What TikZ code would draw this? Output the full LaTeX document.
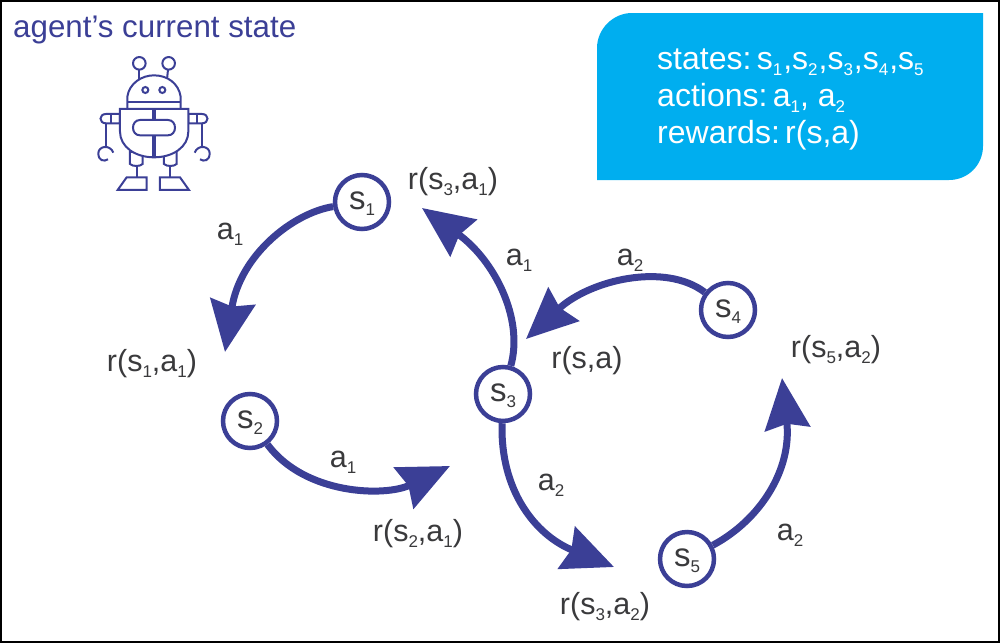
\documentclass[tikz,border=0pt]{standalone}
\usepackage{fontspec}
\setmainfont{Liberation Sans}
\usetikzlibrary{arrows.meta}
\definecolor{navy}{HTML}{3B3F96}
\definecolor{sky}{HTML}{00AEEF}
\definecolor{ink}{HTML}{3A3A3C}
\newcommand{\subs}[1]{\raisebox{-6.5pt}{\fontsize{17}{17}\selectfont #1}}
\newcommand{\labfont}{\fontsize{30.5}{36}\selectfont}
\tikzset{
  statenode/.style={circle,draw=navy,line width=4.5pt,fill=white,minimum size=54pt,inner sep=0pt,text=ink,font=\fontsize{33}{36}\selectfont,text height=14pt,text depth=0pt},
  conn/.style={draw=navy,line width=7pt,-{Stealth[length=51pt,width=45pt,inset=5pt,fill=navy]}},
  lab/.style={text=ink,font=\labfont,inner sep=0pt,anchor=base},
  boxtext/.style={text=white,font=\fontsize{32}{37}\selectfont,inner sep=0pt,anchor=base west},
  robot/.style={draw=navy,line width=2pt,fill=white}
}
\begin{document}
\begin{tikzpicture}[x=1pt,y=-1pt]
\useasboundingbox (0,0) rectangle (1000,643);
\draw[black,line width=2pt] (1,1) rectangle (999,642);
% info box
\fill[sky] (632,13) -- (983,13) -- (983,146) .. controls (983,165) and (968,180) .. (949,180) -- (597,180) -- (597,48) .. controls (597,29) and (613,13) .. (632,13) -- cycle;
\node[boxtext] (t1) at (657,69) {states:\,s\subs{1}\kern1pt,s\subs{2}\kern1pt,s\subs{3}\kern1pt,s\subs{4}\kern1pt,s\subs{5}};
\node[boxtext] (t2) at (657,106) {actions:\,a\subs{1}, a\subs{2}};
\node[boxtext] (t3) at (657,143) {rewards:\,r(s,a)};
\node[text=navy,font=\fontsize{31.3}{36}\selectfont,inner sep=0pt,anchor=base west] (cur) at (13,37) {agent’s current state};
% robot
\begin{scope}[shift={(80,40)},x=0.3333pt,y=-0.3333pt]
\draw[robot,fill=none] (178,70) -- (178,118);
\draw[robot,fill=none] (266,70) -- (261,118);
\draw[robot] (178,70) circle[radius=6.3pt];
\draw[robot] (266,70) circle[radius=6.3pt];
\draw[robot] (142,205) -- (142,170) .. controls (148,130) and (185,106) .. (222,106) .. controls (262,106) and (296,130) .. (302,170) -- (302,205);
\draw[robot,fill=none] (142,186) -- (302,186);
\draw[robot] (196,150) circle[radius=3pt];
\draw[robot] (247,150) circle[radius=3pt];
% arms
\draw[robot] (120,222) -- (78,222) .. controls (56,222) and (56,250) .. (78,250) -- (120,250) -- cycle;
\draw[robot,fill=none] (92,222) -- (92,250);
\draw[robot] (325,222) -- (366,222) .. controls (388,222) and (388,250) .. (366,250) -- (325,250) -- cycle;
\draw[robot,fill=none] (352,222) -- (352,250);
\draw[robot,fill=none] (78,250) -- (78,320) (366,250) -- (366,320);
\draw[robot,fill=none] (100,338) .. controls (90,312) and (55,318) .. (55,340) .. controls (55,362) and (72,366) .. (84,358);
\draw[robot,fill=none] (344,338) .. controls (354,312) and (389,318) .. (389,340) .. controls (389,362) and (372,366) .. (360,358);
% legs
\draw[robot] (150,335) -- (150,372) .. controls (158,380) and (180,380) .. (188,372) -- (188,340) -- cycle;
\draw[robot] (252,340) -- (252,372) .. controls (260,380) and (282,380) .. (290,372) -- (290,335) -- cycle;
\draw[robot,fill=none] (170,378) -- (170,412) (270,378) -- (270,412);
\draw[robot] (140,412) -- (200,412) -- (200,450) -- (113,450) -- cycle;
\draw[robot] (240,412) -- (300,412) -- (327,450) -- (240,450) -- cycle;
% body
\draw[robot] (120,207) -- (325,207) -- (325,275) .. controls (325,320) and (280,352) .. (222,352) .. controls (165,352) and (120,320) .. (120,275) -- cycle;
\draw[robot,fill=none] (218,207) -- (218,238) (226,207) -- (226,238);
\draw[robot,fill=none] (218,288) -- (218,351) (226,288) -- (226,351);
\draw[robot] (180,240) -- (264,240) .. controls (292,240) and (292,286) .. (264,286) -- (180,286) .. controls (152,286) and (152,240) .. (180,240) -- cycle;
\end{scope}
% states
\node[statenode] (s1) at (362,202) {s\subs{1}};
\node[statenode] (s2) at (250,421) {s\subs{2}};
\node[statenode] (s3) at (503,394) {s\subs{3}};
\node[statenode] (s4) at (728,310) {s\subs{4}};
\node[statenode] (s5) at (687,559) {s\subs{5}};
% arrow tips
\coordinate (e1) at (225,352);
\coordinate (e2) at (450,466);
\coordinate (e3) at (422,208);
\coordinate (e4) at (526,339);
\coordinate (e5) at (614,567);
\coordinate (e6) at (782,378);
\draw[conn] (s1) .. controls (293,213) and (240,255) .. (e1);
\draw[conn] (s2) .. controls (305,495) and (385,497) .. (e2);
\draw[conn] (s3) .. controls (524,318) and (494,260) .. (e3);
\draw[conn] (s4) .. controls (665,262) and (590,280) .. (e4);
\draw[conn] (s3) .. controls (500,490) and (535,535) .. (e5);
\draw[conn] (s5) .. controls (760,520) and (792,470) .. (e6);
% labels
\node[lab] (l1) at (230,239) {a\subs{1}};
\node[lab] (l2) at (152,371) {r(s\subs{1},a\subs{1})};
\node[lab] (l3) at (343,467) {a\subs{1}};
\node[lab] (l4) at (418,541) {r(s\subs{2},a\subs{1})};
\node[lab] (l5) at (453,189) {r(s\subs{3},a\subs{1})};
\node[lab] (l6) at (519,265) {a\subs{1}};
\node[lab] (l7) at (630,265) {a\subs{2}};
\node[lab] (l8) at (587,368) {r(s,a)};
\node[lab] (l9) at (551,490) {a\subs{2}};
\node[lab] (l10) at (605,614) {r(s\subs{3},a\subs{2})};
\node[lab] (l11) at (790,540) {a\subs{2}};
\node[lab] (l12) at (836,357) {r(s\subs{5},a\subs{2})};
\end{tikzpicture}
\end{document}
